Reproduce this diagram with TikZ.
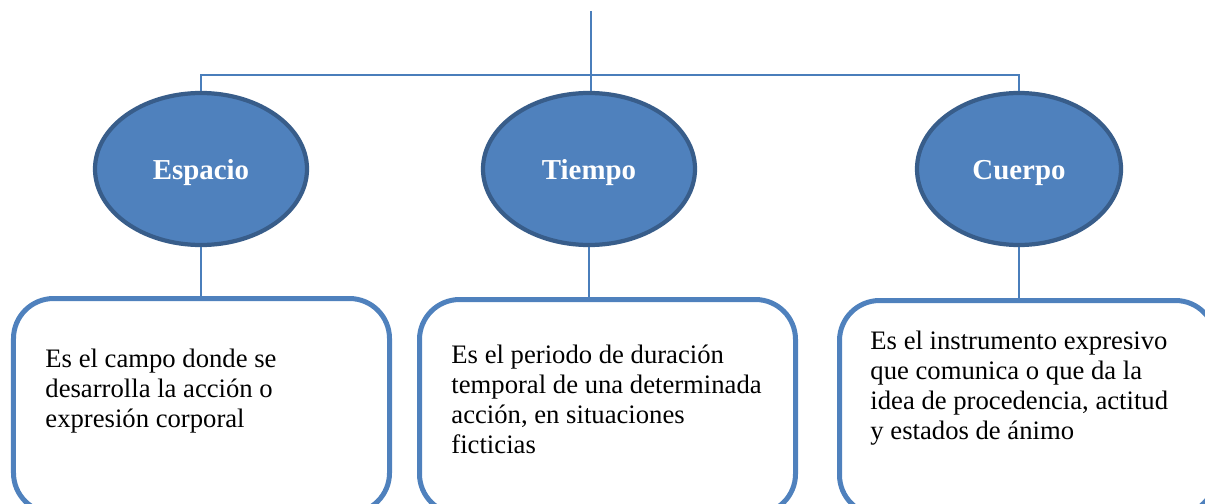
\documentclass[tikz,border=0pt]{standalone}
\usepackage{fontspec}
\setmainfont{Liberation Serif}
\usetikzlibrary{shapes}
\definecolor{officeblue}{HTML}{4F81BD}
\definecolor{officerim}{HTML}{385D8A}
\definecolor{linkblue}{HTML}{4A7EBB}
\tikzset{
  topic/.style={
    ellipse, fill=officeblue, draw=officerim, line width=1.9pt,
    minimum width=95.4pt, minimum height=68.4pt, inner sep=0pt,
    text height=9.5pt, text depth=0pt,
    text=white, font=\fontsize{13}{15}\selectfont\bfseries,
  },
  textbox/.style={
    rectangle, draw=officeblue, line width=2.25pt, rounded corners=18pt,
    minimum width=169.2pt, minimum height=96.5pt, inner sep=0pt,
  },
  boxtext/.style={
    anchor=north west, inner sep=0pt, align=left,
    font=\fontsize{12}{13.5}\selectfont,
  },
  link/.style={draw=linkblue, line width=0.7pt},
}
\begin{document}
\begin{tikzpicture}[x=0.45pt, y=-0.45pt]

                \useasboundingbox (0,0) rectangle (1205,504);
                \clip (0,0) rectangle (1205,504);

                \coordinate (top) at (591,11);
                \coordinate (bar) at (591,75);

                \node[topic] (espacio) at (201,169){Espacio};
                \node[topic] (tiempo) at (589,169){Tiempo};
                \node[topic, minimum width=91.8pt] (cuerpo) at (1019,169){Cuerpo};

                \node[textbox] (espaciobox) at (201.5,405.75){};
                \node[textbox] (tiempobox) at (607.5,406.75){};
                \node[textbox] (cuerpobox) at (1027.5,407.75){};

                \node[boxtext] (espaciotext) at (45,349){Es el campo donde se\\desarrolla la acción o\\expresión corporal};
                \node[boxtext] (tiempotext) at (451,345){Es el periodo de duración\\temporal de una determinada\\acción, en situaciones\\ficticias};
                \node[boxtext] (cuerpotext) at (870,331){Es el instrumento expresivo\\que comunica o que da la\\idea de procedencia, actitud\\y estados de ánimo};

                \draw[link] (top) -- (bar);
                \draw[link] (espacio.north) |- (bar) -| (cuerpo.north);
                \draw[link] (bar) -- (bar |- tiempo.north);

                \draw[link] (espacio.south) -- (espacio.south |- espaciobox.north);
                \draw[link] (tiempo.south) -- (tiempo.south |- tiempobox.north);
                \draw[link] (cuerpo.south) -- (cuerpo.south |- cuerpobox.north);

        \end{tikzpicture}
\end{document}
